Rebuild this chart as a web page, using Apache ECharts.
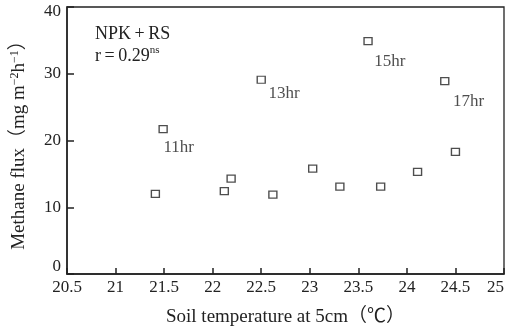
<!DOCTYPE html>
<html>
<head>
<meta charset="UTF-8">
<script src="https://cdn.jsdelivr.net/npm/echarts@6/dist/echarts.min.js"></script>
<style>html,body{margin:0;padding:0;background:#fff;}</style>
</head>
<body>
<div id="chart" style="width:508px;height:330px;"></div>
<script>
// soil temperature (°C) and methane flux values
const soilTemp = [21.41, 21.49, 22.12, 22.19, 22.50, 22.62, 23.03, 23.31, 23.60, 23.73, 24.11, 24.39, 24.50];
const methaneFlux = [12.0, 21.7, 12.4, 14.3, 29.1, 11.9, 15.8, 13.1, 34.9, 13.1, 15.3, 28.9, 18.3];
const pointLabels = ['', '11hr', '', '', '13hr', '', '', '', '15hr', '', '', '17hr', ''];
const labelPos = {'11hr': [5, 14], '13hr': [12, 9], '15hr': [11, 16], '17hr': [13, 16]};

const serif = 'Liberation Serif, "Noto Sans CJK SC", serif';

const chart = echarts.init(document.getElementById('chart'));

const data = soilTemp.map((t, i) => {
    const item = { value: [t, methaneFlux[i]] };
    if (pointLabels[i]) {
        item.label = {
            show: true,
            formatter: pointLabels[i],
            position: labelPos[pointLabels[i]],
            fontFamily: serif,
            fontSize: 17,
            color: '#222'
        };
    }
    return item;
});

chart.setOption({
    animation: false,
    title: {
        left: 90,
        top: 18,
        text: 'NPK\u2009+\u2009RS\n{r|r\u2009=\u20090.29}{s|ns}',
        textStyle: {
            fontFamily: serif, fontSize: 18, fontWeight: 'normal', color: '#222', lineHeight: 22,
            rich: {
                r: { fontFamily: serif, fontSize: 18, color: '#222', lineHeight: 22 },
                s: { fontFamily: serif, fontSize: 11, color: '#222', verticalAlign: 'top', padding: [0, 0, 9, 0] }
            }
        }
    },
    grid: {
        left: 67, right: 4, top: 7, bottom: 56,
        containLabel: false, outerBoundsMode: 'none',
        show: true, borderColor: '#222', borderWidth: 1.3
    },
    xAxis: {
        type: 'value', min: 20.5, max: 25, interval: 0.5,
        name: 'Soil temperature at 5cm（℃）',
        nameLocation: 'middle', nameGap: 34,
        nameTextStyle: { fontFamily: serif, fontSize: 19, color: '#222' },
        axisLine: { lineStyle: { color: '#222', width: 1.5 } },
        axisTick: { inside: true, length: 6, lineStyle: { color: '#222', width: 1.5 } },
        axisLabel: {
            fontFamily: serif, fontSize: 17, color: '#222', margin: 5,
            alignMaxLabel: 'right'
        },
        splitLine: { show: false }
    },
    yAxis: {
        type: 'value', min: 0, max: 40, interval: 10,
        name: '{n|Methane flux（mg m}{p|−2}{n|h}{p|−1}{n|）}',
        nameLocation: 'middle', nameGap: 37, nameRotate: 90,
        nameTextStyle: {
            fontFamily: serif, fontSize: 19, color: '#222',
            rich: {
                n: { fontFamily: serif, fontSize: 19, color: '#222' },
                p: { fontFamily: serif, fontSize: 12, color: '#222', verticalAlign: 'top', padding: [0, 0, 9, 0] }
            }
        },
        axisLine: { show: true, lineStyle: { color: '#222', width: 1.5 } },
        axisTick: { show: true, inside: true, length: 7, lineStyle: { color: '#222', width: 1.5 } },
        axisLabel: {
            fontFamily: serif, fontSize: 17, color: '#222', margin: 6,
            formatter: v => v === 0 ? '{z|0}' : v === 40 ? '{t|40}' : String(v),
            rich: {
                z: { fontFamily: serif, fontSize: 17, color: '#222', padding: [0, 0, 14, 0] },
                t: { fontFamily: serif, fontSize: 17, color: '#222', padding: [10, 0, 0, 0] }
            }
        },
        splitLine: { show: false }
    },
    series: [{
        type: 'scatter',
        symbol: 'rect',
        symbolSize: [8, 7],
        itemStyle: { color: '#fff', borderColor: '#222', borderWidth: 1.3 },
        data: data
    }]
});
</script>
</body>
</html>
